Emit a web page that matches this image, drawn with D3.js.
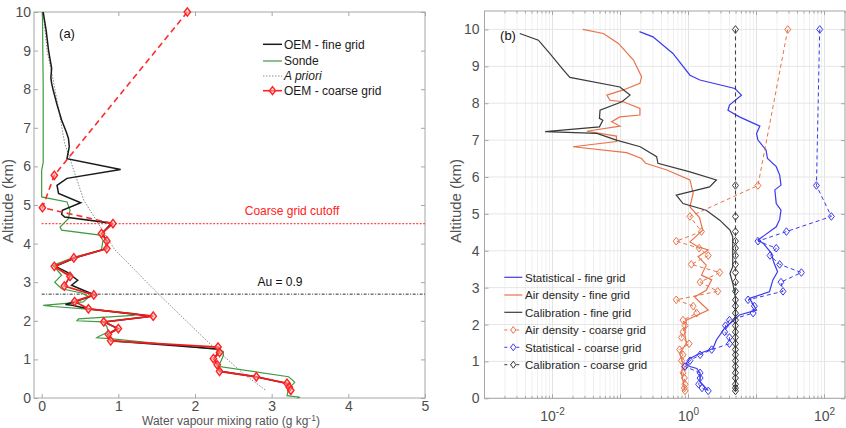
<!DOCTYPE html>
<html><head><meta charset="utf-8">
<script src="https://cdn.jsdelivr.net/npm/d3@7"></script>
<style>body{margin:0;background:#fff}svg{font-family:"Liberation Sans",Arial,sans-serif}</style>
</head><body>
<svg id="c" width="846" height="428"></svg>
<script>
// ---------- DATA ----------
// Panel (a): water vapour mixing ratio (g/kg) vs altitude (km)
const coarseAlt = [10,5.77,4.93,4.52,4.26,4.07,3.87,3.63,3.41,3.15,2.90,2.67,2.50,2.31,2.12,1.97,1.80,1.65,1.48,1.32,1.18,1.02,0.86,0.69,0.55,0.38,0.28,0.20];
const oemCoarse = [1.90,0.165,0.01,0.93,0.78,0.85,0.85,0.42,0.165,0.37,0.295,0.68,0.43,0.61,1.455,0.81,1.0,0.87,0.90,2.30,2.32,2.24,2.29,2.32,2.80,3.20,3.23,3.25];

const fineAltA = [10,9.5,9.0,8.54,8.30,8.15,7.98,7.6,7.2,6.9,6.72,6.51,6.2,5.92,5.69,5.51,5.30,5.06,4.86,4.76,4.69,4.53,4.27,4.07,3.87,3.63,3.41,3.26,3.05,2.92,2.67,2.50,2.42,2.40,2.31,2.12,1.97,1.80,1.65,1.48,1.27,1.18,1.02,0.86,0.69,0.55,0.38,0.28,0.20];
const oemFine  = [0.02,0.06,0.09,0.13,0.12,0.13,0.15,0.20,0.26,0.32,0.35,0.36,0.33,1.03,0.33,0.20,0.22,0.51,0.27,0.26,0.30,0.91,0.79,0.85,0.84,0.44,0.18,0.33,0.47,0.39,0.69,0.44,0.31,0.40,0.60,1.43,0.82,0.99,0.86,0.90,2.30,2.30,2.25,2.30,2.33,2.80,3.19,3.22,3.24];

const sondeAlt = [10,8.0,6.9,6.1,5.9,5.21,5.08,4.86,4.65,4.43,4.35,4.22,4.08,3.83,3.65,3.44,3.18,3.00,2.83,2.72,2.62,2.49,2.40,2.37,2.30,2.18,2.14,2.05,2.00,1.97,1.85,1.71,1.60,1.56,1.54,1.25,1.20,1.10,0.92,0.82,0.55,0.45,0.40,0.30,0.24,0.06,0.02,0.0];
const sondeVal = [0.01,0.02,0.02,0.02,0.00,0.00,0.33,0.37,0.35,0.24,0.26,0.76,0.80,0.78,0.43,0.15,0.26,0.17,0.26,0.52,0.62,0.54,0.02,0.15,0.60,1.25,1.20,0.48,0.46,0.80,0.85,0.87,0.75,0.72,0.89,2.32,2.37,2.37,2.33,2.30,3.22,3.28,3.30,3.25,3.22,3.20,3.37,3.33];

const aprioriAlt = [10,9.0,8.24,7.5,6.6,5.12,3.85,2.66,1.32,0.6,0.19];
const aprioriVal = [0.02,0.07,0.15,0.22,0.30,0.55,0.95,1.54,2.24,2.65,2.93];

const cutoffAlt = 4.52;
const auAlt = 2.69;
const xTicksA = [0,1,2,3,4,5];
const yTicksA = [0,1,2,3,4,5,6,7,8,9,10];
const legendA = ["OEM - fine grid","Sonde","A priori","OEM - coarse grid"];

// Panel (b): uncertainty vs altitude (log x)
const statAlt = [9.94,9.80,9.35,8.76,8.63,8.40,8.22,7.95,7.81,7.63,7.38,7.18,7.00,6.73,6.50,6.28,6.05,5.78,5.65,5.28,5.10,4.85,4.65,4.29,4.20,3.93,3.70,3.43,3.21,2.89,2.71,2.55,2.39,2.26,2.17,1.90,1.58,1.35,1.22,1.08,0.95,0.86,0.81,0.68,0.45,0.21];
const statFine = [0.19,0.30,0.59,1.05,1.47,4.8,6.0,4.0,3.8,5.6,11.2,10,10.5,13.8,14.5,19.5,21.9,22.9,18.6,19.5,22.9,21.9,19.5,10.5,12.6,16.6,17.8,20.4,17.4,15.5,7.9,8.9,10,5.6,5.0,3.4,2.57,2.29,1.48,1.05,0.93,1.05,1.32,1.48,1.48,1.95];

const airAlt = [10.0,9.89,9.62,9.17,8.72,8.54,8.36,8.22,8.08,8.04,7.86,7.68,7.63,7.50,7.38,7.24,7.11,6.96,6.82,6.66,6.50,6.37,6.19,5.92,5.56,5.19,4.90,4.56,4.24,4.11,4.02,3.84,3.61,3.34,3.21,2.93,2.75,2.55,2.39,2.12,1.76,1.49,1.22,0.95,0.68,0.22];
const airFine = [0.0278,0.056,0.093,0.155,0.204,0.193,0.11,0.063,0.07,0.11,0.193,0.193,0.098,0.074,0.098,0.032,0.087,0.087,0.020,0.123,0.204,0.234,0.48,1.05,1.17,1.05,1.45,1.62,1.05,1.38,1.95,1.38,1.82,1.55,2.19,1.82,1.23,1.58,1.95,0.93,0.88,0.93,0.74,0.83,0.79,0.88];

const calAlt = [9.89,9.71,9.35,8.90,8.70,8.44,8.22,8.04,7.81,7.59,7.54,7.36,7.23,7.18,7.00,6.82,6.55,6.37,6.14,5.92,5.73,5.51,5.28,5.10,4.83,4.56,4.38,4.0,3.57,3.39,3.12,2.75,2.5,2.0,1.5,1.0,0.5,0.2];
const calFine = [0.0033,0.0062,0.0091,0.0145,0.018,0.098,0.138,0.105,0.050,0.049,0.055,0.049,0.0078,0.045,0.087,0.195,0.34,0.355,1.05,2.57,2.04,0.66,0.83,1.82,2.88,4.07,4.47,4.47,4.47,4.07,4.47,4.9,4.9,4.9,4.9,4.9,4.9,4.9];

const airCoarse  = [28.8,10.5,1.05,1.55,0.66,1.43,1.95,1.10,2.88,1.48,2.69,0.66,1.17,1.32,0.83,0.89,0.83,0.79,1.02,0.74,0.83,0.79,0.87,0.83,0.87,0.89,0.87,0.89];
const statCoarse = [85,76,126,27.5,10.5,19.5,15.8,21.9,45.7,22.9,24.5,7.5,9.3,8.9,4.0,3.5,3.4,4.0,4.0,2.19,1.48,1.05,0.89,1.48,1.48,1.41,1.58,1.95];
const calCoarse  = [4.9,4.9,4.9,4.9,4.9,4.9,4.9,4.9,4.9,4.9,4.9,4.9,4.9,4.9,4.9,4.9,4.9,4.9,4.9,4.9,4.9,4.9,4.9,4.9,4.9,4.9,4.9,4.9];
const xTicksB = [0.01,1,100];
const xTickExpB = ["-2","0","2"];
const legendB = ["Statistical - fine grid","Air density - fine grid","Calibration - fine grid","Air density - coarse grid","Statistical - coarse grid","Calibration - coarse grid"];

// ---------- DRAW ----------
const svg = d3.select("#c");
const tickCol = "#4d4d4d", boxCol = "#a6a6a6";
const diamond = (w,h)=>`M0,${-h}L${w},0L0,${h}L${-w},0Z`;
const zip = (a,v)=>a.map((h,i)=>[v[i],h]);

// ===== Panel (a) =====
const xA = d3.scaleLinear().domain([-0.1,5]).range([34,425]);
const yA = d3.scaleLinear().domain([0,10]).range([398,12]);
const gA = svg.append("g");

function styleAxis(g){
  g.select(".domain").remove();
  g.selectAll(".tick line").attr("stroke",boxCol);
  g.selectAll(".tick text").attr("fill",tickCol).style("font-size","14px");
}
gA.append("g").attr("transform","translate(34,0)")
  .call(d3.axisLeft(yA).tickValues(yTicksA).tickFormat(d3.format("d")).tickSizeInner(-4).tickSizeOuter(0).tickPadding(3)).call(styleAxis);
gA.append("g").attr("transform","translate(425,0)")
  .call(d3.axisRight(yA).tickValues(yTicksA).tickSizeInner(-4).tickSizeOuter(0).tickFormat("")).call(styleAxis);
gA.append("g").attr("transform","translate(0,398)")
  .call(d3.axisBottom(xA).tickValues(xTicksA).tickFormat(d3.format("d")).tickSizeInner(-4).tickSizeOuter(0).tickPadding(3.5)).call(styleAxis);
gA.append("g").attr("transform","translate(0,12)")
  .call(d3.axisTop(xA).tickValues(xTicksA).tickSizeInner(-4).tickSizeOuter(0).tickFormat("")).call(styleAxis);
gA.append("rect").attr("x",34).attr("y",12).attr("width",391).attr("height",386)
  .attr("fill","none").attr("stroke",boxCol).attr("stroke-width",1);

const lineA = d3.line().x(d=>xA(d[0])).y(d=>yA(d[1]));
// horizontal reference lines
gA.append("path").attr("d",`M${xA(0)},${yA(cutoffAlt)}H425`)
  .attr("fill","none").attr("stroke","#ff4d4d").attr("stroke-width",1.2).attr("stroke-dasharray","2,1.5");
gA.append("path").attr("d",`M${xA(0)},${yA(auAlt)}H425`)
  .attr("fill","none").attr("stroke","#333").attr("stroke-width",1).attr("stroke-dasharray","3,1.5,1,1.5");
gA.append("text").attr("x",292).attr("y",yA(cutoffAlt)-9).attr("text-anchor","middle")
  .attr("fill","#ff2020").style("font-size","12px").text("Coarse grid cutoff");
gA.append("text").attr("x",280).attr("y",yA(auAlt)-8).attr("text-anchor","middle")
  .attr("fill","#111").style("font-size","12px").text("Au = 0.9");
// a priori
gA.append("path").datum(zip(aprioriAlt,aprioriVal)).attr("d",lineA)
  .attr("fill","none").attr("stroke","#8a8a8a").attr("stroke-width",1).attr("stroke-dasharray","1.5,1.5");
// sonde
gA.append("path").datum(zip(sondeAlt,sondeVal)).attr("d",lineA)
  .attr("fill","none").attr("stroke","#3f9a3f").attr("stroke-width",1.2);
// OEM fine
gA.append("path").datum(zip(fineAltA,oemFine)).attr("d",lineA)
  .attr("fill","none").attr("stroke","#1a1a1a").attr("stroke-width",1.5);
// OEM coarse
const cA = zip(coarseAlt,oemCoarse);
const solidPart = cA.filter(d=>d[1]<=cutoffAlt+0.001);
const dashPart = cA.filter(d=>d[1]>=cutoffAlt-0.001);
gA.append("path").datum(dashPart).attr("d",lineA).attr("fill","none")
  .attr("stroke","#ff2a2a").attr("stroke-width",1.6).attr("stroke-dasharray","6,4");
gA.append("path").datum(solidPart).attr("d",lineA).attr("fill","none")
  .attr("stroke","#ee1c1c").attr("stroke-width",1.8);
gA.selectAll(".mA").data(cA).join("path").attr("d",diamond(3.2,4.2))
  .attr("transform",d=>`translate(${xA(d[0])},${yA(d[1])})`)
  .attr("fill","#ffb3b3").attr("fill-opacity",0.5).attr("stroke","#ff2020").attr("stroke-width",1.4);

gA.append("text").attr("x",67).attr("y",38).attr("text-anchor","middle").attr("fill","#111").style("font-size","13px").text("(a)");

// legend (a)
const legA = gA.append("g");
const legAy = [44.3,61,76,90.7];
const legAStyles = [
  {c:"#1a1a1a",w:1.5,d:null},{c:"#3f9a3f",w:1.2,d:null},{c:"#8a8a8a",w:1,d:"1.5,1.5"},{c:"#ff2020",w:1.6,d:null}];
legendA.forEach((t,i)=>{
  const s = legAStyles[i];
  legA.append("line").attr("x1",263).attr("x2",282).attr("y1",legAy[i]).attr("y2",legAy[i])
    .attr("stroke",s.c).attr("stroke-width",s.w).attr("stroke-dasharray",s.d);
  if(i===3) legA.append("path").attr("d",diamond(3,4)).attr("transform",`translate(272.5,${legAy[i]})`)
    .attr("fill","#ffb3b3").attr("fill-opacity",0.5).attr("stroke","#ff2020").attr("stroke-width",1.4);
  legA.append("text").attr("x",284).attr("y",legAy[i]+4.3).attr("fill","#1a1a1a").style("font-size","12px")
    .style("font-style",i===2?"italic":"normal").text(t);
});
gA.append("text").attr("transform","translate(13,201) rotate(-90)").attr("text-anchor","middle")
  .attr("fill","#555").style("font-size","15px").text("Altitude (km)");
const xl = gA.append("text").attr("x",231).attr("y",425.3).attr("text-anchor","middle").attr("fill","#555").style("font-size","12px");
xl.append("tspan").text("Water vapour mixing ratio (g kg");
xl.append("tspan").attr("dy",-4).style("font-size","8.5px").text("-1");
xl.append("tspan").attr("dy",4).text(")");

// ===== Panel (b) =====
const L=484.5, R=845, T=11, B=398.3;
const xB = d3.scaleLog().domain([0.001,200]).range([L,R]);
const yB = d3.scaleLinear().domain([0,10.5]).range([B,T]);
const gB = svg.append("g");
const allTicks = xB.ticks();
const isMajor = v=>Math.abs(Math.log10(v)-Math.round(Math.log10(v)))<1e-6;
// grid
gB.selectAll(".gv").data(allTicks).join("line").attr("x1",d=>xB(d)).attr("x2",d=>xB(d)).attr("y1",T).attr("y2",B)
  .attr("stroke",d=>isMajor(d)?"#e3e3e3":"#f0f0f0").attr("stroke-width",1);
gB.selectAll(".gh").data(yTicksA).join("line").attr("x1",L).attr("x2",R).attr("y1",d=>yB(d)).attr("y2",d=>yB(d))
  .attr("stroke","#e6e6e6").attr("stroke-width",1);
// axes
gB.append("g").attr("transform",`translate(${L},0)`)
  .call(d3.axisLeft(yB).tickValues(yTicksA).tickFormat(d3.format("d")).tickSizeInner(-4).tickSizeOuter(0).tickPadding(5)).call(styleAxis);
gB.append("g").attr("transform",`translate(${R},0)`)
  .call(d3.axisRight(yB).tickValues(yTicksA).tickSizeInner(-4).tickSizeOuter(0).tickFormat("")).call(styleAxis);
[B,T].forEach((yy,k)=>{
  gB.selectAll(null).data(allTicks).join("line").attr("x1",d=>xB(d)).attr("x2",d=>xB(d))
    .attr("y1",yy).attr("y2",d=>yy+(k===0?-1:1)*(isMajor(d)?4:2.5)).attr("stroke",boxCol);
});
gB.append("g").attr("transform",`translate(0,${B})`)
  .call(d3.axisBottom(xB).tickValues(xTicksB).tickSize(0).tickFormat("")).call(styleAxis);
xTicksB.forEach((v,i)=>{
  const t = gB.append("text").attr("x",xB(v)).attr("y",420.5).attr("text-anchor","middle").attr("fill",tickCol).style("font-size","14px");
  t.append("tspan").text("10");
  t.append("tspan").attr("dy",-6).style("font-size","10px").text(xTickExpB[i]);
});
gB.append("rect").attr("x",L).attr("y",T).attr("width",R-L).attr("height",B-T)
  .attr("fill","none").attr("stroke",boxCol).attr("stroke-width",1);

const lineB = d3.line().x(d=>xB(d[0])).y(d=>yB(d[1]));
const colStat="#3a3af0", colAir="#e8744a", colCal="#3a3a3a";
gB.append("path").datum(zip(statAlt,statFine)).attr("d",lineB).attr("fill","none").attr("stroke",colStat).attr("stroke-width",1.2);
gB.append("path").datum(zip(airAlt,airFine)).attr("d",lineB).attr("fill","none").attr("stroke",colAir).attr("stroke-width",1.2);
gB.append("path").datum(zip(calAlt,calFine)).attr("d",lineB).attr("fill","none").attr("stroke",colCal).attr("stroke-width",1.2);
[[airCoarse,colAir],[statCoarse,colStat],[calCoarse,colCal]].forEach(([vals,c])=>{
  const pts = zip(coarseAlt,vals);
  gB.append("path").datum(pts).attr("d",lineB).attr("fill","none").attr("stroke",c).attr("stroke-width",1).attr("stroke-dasharray","4,3");
  gB.selectAll(null).data(pts).join("path").attr("d",diamond(3,3.8))
    .attr("transform",d=>`translate(${xB(d[0])},${yB(d[1])})`).attr("fill","none").attr("stroke",c).attr("stroke-width",1);
});
gB.append("text").attr("x",508).attr("y",39.5).attr("text-anchor","middle").attr("fill","#111").style("font-size","13px").text("(b)");
// legend (b)
const legBy = [277.3,295,312.3,330,347.3,364.7];
const legBc = [colStat,colAir,colCal,colAir,colStat,colCal];
legendB.forEach((t,i)=>{
  const dashed = i>=3;
  gB.append("line").attr("x1",504.3).attr("x2",522.3).attr("y1",legBy[i]).attr("y2",legBy[i])
    .attr("stroke",legBc[i]).attr("stroke-width",dashed?1:1.2).attr("stroke-dasharray",dashed?"3,3":null);
  if(dashed) gB.append("path").attr("d",diamond(2.6,3.5)).attr("transform",`translate(513.3,${legBy[i]})`)
    .attr("fill","#fff").attr("stroke",legBc[i]).attr("stroke-width",1);
  gB.append("text").attr("x",525).attr("y",legBy[i]+4.2).attr("fill","#262626").style("font-size","11.5px").text(t);
});
gB.append("text").attr("transform","translate(461,201) rotate(-90)").attr("text-anchor","middle")
  .attr("fill","#555").style("font-size","15px").text("Altitude (km)");
</script>
</body></html>
